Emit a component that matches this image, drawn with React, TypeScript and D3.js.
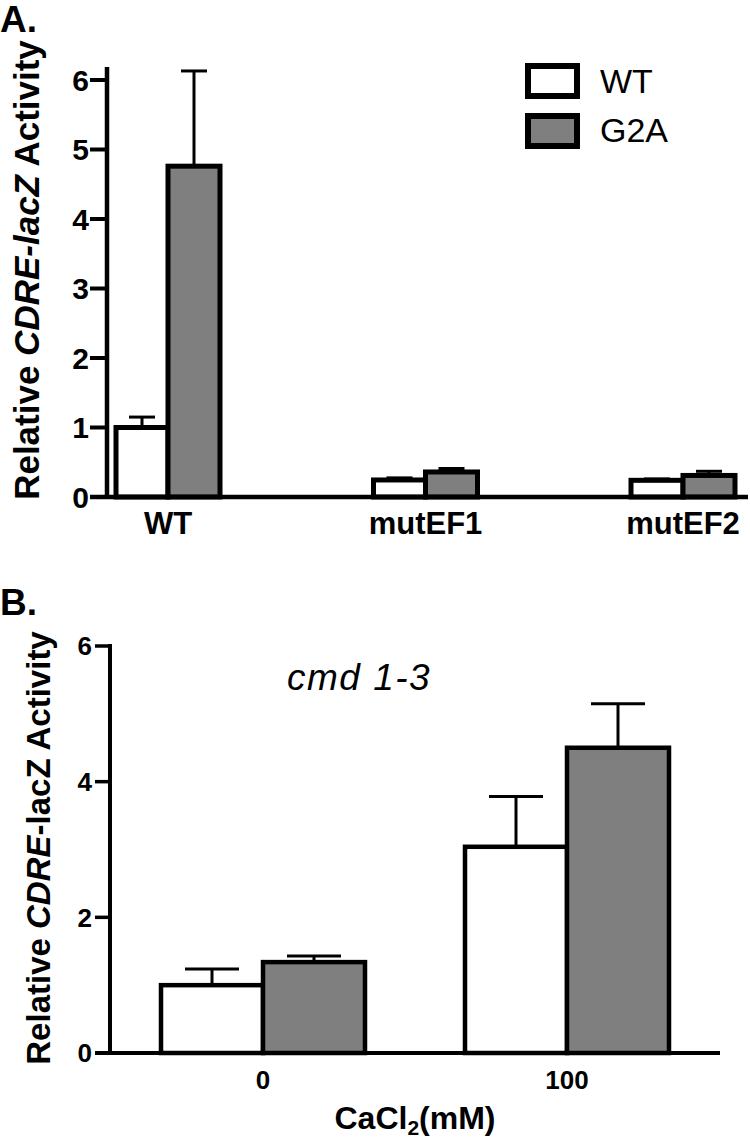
import React from "react";
import * as d3 from "d3";

// ---------- Data ----------
const seriesNames = ["WT", "G2A"];

const groupsA = ["WT", "mutEF1", "mutEF2"];
const meanA_WT = [1.0, 0.245, 0.24];
const semA_WT = [0.15, 0.03, 0.02];
const meanA_G2A = [4.76, 0.36, 0.31];
const semA_G2A = [1.37, 0.05, 0.06];
const ticksA = [0, 1, 2, 3, 4, 5, 6];

const groupsB = ["0", "100"];
const meanB_WT = [1.0, 3.04];
const semB_WT = [0.24, 0.74];
const meanB_G2A = [1.34, 4.5];
const semB_G2A = [0.09, 0.65];
const ticksB = [0, 2, 4, 6];

const fills = ["#ffffff", "#7f7f7f"];
const FONT = "'Liberation Sans', Arial, Helvetica, sans-serif";

export default function App() {
  // Panel A scales
  const yA = d3.scaleLinear().domain([0, 6]).range([497, 80]);
  const xA = d3.scalePoint<string>().domain(groupsA).range([168, 683]);
  const subA = d3.scaleBand<string>().domain(seriesNames).range([-52, 52]).padding(0);
  const axisAx = 107;

  // Panel B scales
  const yB = d3.scaleLinear().domain([0, 6]).range([1053, 646]);
  const xB = d3.scalePoint<string>().domain(groupsB).range([263, 567]);
  const subB = d3.scaleBand<string>().domain(seriesNames).range([-102, 102]).padding(0);
  const axisBx = 110;

  const dataA = groupsA.map((g, i) => [
    { g, s: "WT", m: meanA_WT[i], e: semA_WT[i] },
    { g, s: "G2A", m: meanA_G2A[i], e: semA_G2A[i] },
  ]).flat();
  const dataB = groupsB.map((g, i) => [
    { g, s: "WT", m: meanB_WT[i], e: semB_WT[i] },
    { g, s: "G2A", m: meanB_G2A[i], e: semB_G2A[i] },
  ]).flat();

  return (
    <svg width={750} height={1143} style={{ position: "absolute", left: 0, top: 0, background: "#fff" }} fontFamily={FONT}>
      <rect x={0} y={0} width={750} height={1143} fill="#fff" />

      {/* ---------------- Panel A ---------------- */}
      <text x={0} y={32} fontSize={37} fontWeight="bold">A.</text>

      {/* error bars A */}
      {dataA.map((d, i) => {
        const cx = (xA(d.g) as number) + (subA(d.s) as number) + subA.bandwidth() / 2;
        return (
          <g key={"ea" + i} stroke="#000" strokeWidth={3}>
            <line x1={cx} x2={cx} y1={yA(d.m)} y2={yA(d.m + d.e)} />
            <line x1={cx - 13} x2={cx + 13} y1={yA(d.m + d.e)} y2={yA(d.m + d.e)} />
          </g>
        );
      })}
      {/* bars A */}
      {dataA.map((d, i) => {
        const x0 = (xA(d.g) as number) + (subA(d.s) as number);
        return (
          <rect key={"ba" + i} x={x0} y={yA(d.m)} width={subA.bandwidth()} height={yA(0) - yA(d.m)}
            fill={fills[seriesNames.indexOf(d.s)]} stroke="#000" strokeWidth={5} strokeLinejoin="miter" />
        );
      })}

      {/* axes A */}
      <line x1={axisAx} x2={axisAx} y1={67} y2={yA(0) + 2} stroke="#000" strokeWidth={4.5} />
      <line x1={90} x2={748} y1={yA(0)} y2={yA(0)} stroke="#000" strokeWidth={4.5} />
      {ticksA.map((t) => (
        <g key={"ta" + t}>
          <line x1={90} x2={axisAx} y1={yA(t)} y2={yA(t)} stroke="#000" strokeWidth={4} />
          <text x={89} y={yA(t)} dy="0.36em" textAnchor="end" fontSize={30} fontWeight="bold">{t}</text>
        </g>
      ))}
      {groupsA.map((g) => (
        <text key={"la" + g} x={xA(g) as number} y={534} textAnchor="middle" fontSize={31} fontWeight="bold">{g}</text>
      ))}
      <text transform={`translate(39,270) rotate(-90)`} textAnchor="middle" fontSize={35} fontWeight="bold">
        Relative <tspan fontStyle="italic">CDRE-lacZ</tspan> Activity
      </text>

      {/* legend */}
      {seriesNames.map((s, i) => (
        <g key={"lg" + s}>
          <rect x={528} y={66 + i * 50} width={49} height={30} fill={fills[i]} stroke="#000" strokeWidth={6} />
          <text x={600} y={93 + i * 49} fontSize={34}>{s}</text>
        </g>
      ))}

      {/* ---------------- Panel B ---------------- */}
      <text x={0} y={615} fontSize={37} fontWeight="bold">B.</text>
      <text x={287} y={690} fontSize={37} fontStyle="italic" letterSpacing={1.5}>cmd 1-3</text>

      {dataB.map((d, i) => {
        const cx = (xB(d.g) as number) + (subB(d.s) as number) + subB.bandwidth() / 2;
        return (
          <g key={"eb" + i} stroke="#000" strokeWidth={3}>
            <line x1={cx} x2={cx} y1={yB(d.m)} y2={yB(d.m + d.e)} />
            <line x1={cx - 27} x2={cx + 27} y1={yB(d.m + d.e)} y2={yB(d.m + d.e)} />
          </g>
        );
      })}
      {dataB.map((d, i) => {
        const x0 = (xB(d.g) as number) + (subB(d.s) as number);
        return (
          <rect key={"bb" + i} x={x0} y={yB(d.m)} width={subB.bandwidth()} height={yB(0) - yB(d.m)}
            fill={fills[seriesNames.indexOf(d.s)]} stroke="#000" strokeWidth={4.5} />
        );
      })}

      <line x1={axisBx} x2={axisBx} y1={yB(6) - 2} y2={yB(0) + 2} stroke="#000" strokeWidth={4} />
      <line x1={95} x2={720} y1={yB(0)} y2={yB(0)} stroke="#000" strokeWidth={4} />
      {ticksB.map((t) => (
        <g key={"tb" + t}>
          <line x1={95} x2={axisBx} y1={yB(t)} y2={yB(t)} stroke="#000" strokeWidth={3.5} />
          <text x={92} y={yB(t)} dy="0.36em" textAnchor="end" fontSize={26} fontWeight="bold">{t}</text>
        </g>
      ))}
      {groupsB.map((g) => (
        <text key={"lb" + g} x={xB(g) as number} y={1089} textAnchor="middle" fontSize={26} fontWeight="bold">{g}</text>
      ))}
      <text x={415} y={1129} textAnchor="middle" fontSize={32} fontWeight="bold">
        CaCl<tspan fontSize={21} dy={6}>2</tspan><tspan dy={-6}>(mM)</tspan>
      </text>
      <text transform={`translate(50,848) rotate(-90)`} textAnchor="middle" fontSize={33} fontWeight="bold">
        Relative <tspan fontStyle="italic">CDRE</tspan>-lacZ Activity
      </text>
    </svg>
  );
}
